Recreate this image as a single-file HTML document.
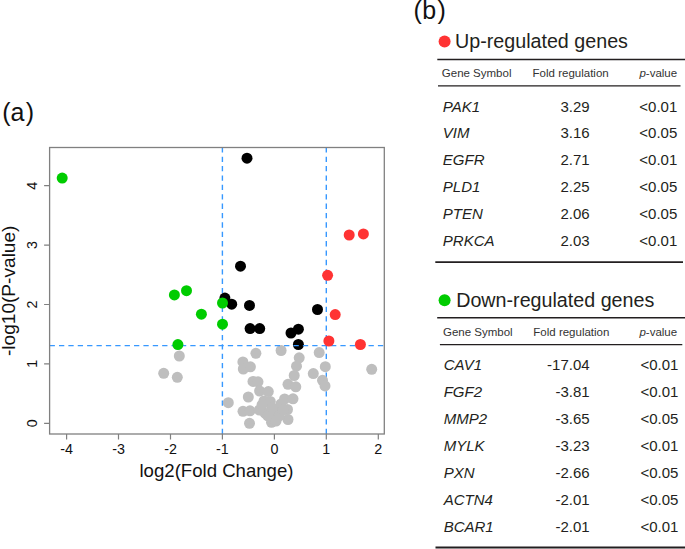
<!DOCTYPE html>
<html><head><meta charset="utf-8"><style>
html,body{margin:0;padding:0;background:#fff;}
body{width:685px;height:549px;overflow:hidden;}
svg{display:block;}
</style></head><body>
<svg width="685" height="549" viewBox="0 0 685 549"><g stroke="#3798ff" stroke-width="1.4" fill="none" stroke-dasharray="5.3 4.08"><path d="M222.4 434.0V147.5"/><path d="M326.3 434.0V147.5"/></g><circle cx="179.3" cy="356" r="5.5" fill="#bebebe"/><circle cx="163.7" cy="373.3" r="5.5" fill="#bebebe"/><circle cx="177.3" cy="377.3" r="5.5" fill="#bebebe"/><circle cx="228.3" cy="402.7" r="5.5" fill="#bebebe"/><circle cx="255.9" cy="353.3" r="5.5" fill="#bebebe"/><circle cx="281.1" cy="350.5" r="5.5" fill="#bebebe"/><circle cx="242.9" cy="361.9" r="5.5" fill="#bebebe"/><circle cx="243.3" cy="369" r="5.5" fill="#bebebe"/><circle cx="250.4" cy="366.8" r="5.5" fill="#bebebe"/><circle cx="253" cy="381.4" r="5.5" fill="#bebebe"/><circle cx="258" cy="381.8" r="5.5" fill="#bebebe"/><circle cx="259.6" cy="391" r="5.5" fill="#bebebe"/><circle cx="268.3" cy="391.6" r="5.5" fill="#bebebe"/><circle cx="248.3" cy="397" r="5.5" fill="#bebebe"/><circle cx="264" cy="401" r="5.5" fill="#bebebe"/><circle cx="270.3" cy="401.5" r="5.5" fill="#bebebe"/><circle cx="243" cy="411.3" r="5.5" fill="#bebebe"/><circle cx="250" cy="410.8" r="5.5" fill="#bebebe"/><circle cx="259.4" cy="410" r="5.5" fill="#bebebe"/><circle cx="265" cy="413.2" r="5.5" fill="#bebebe"/><circle cx="271.5" cy="422.3" r="5.5" fill="#bebebe"/><circle cx="249.5" cy="423.3" r="5.5" fill="#bebebe"/><circle cx="277" cy="412.5" r="5.5" fill="#bebebe"/><circle cx="281" cy="404" r="5.5" fill="#bebebe"/><circle cx="284.6" cy="399" r="5.5" fill="#bebebe"/><circle cx="293" cy="398.8" r="5.5" fill="#bebebe"/><circle cx="287.5" cy="409.5" r="5.5" fill="#bebebe"/><circle cx="288" cy="419.5" r="5.5" fill="#bebebe"/><circle cx="299.2" cy="357.8" r="5.5" fill="#bebebe"/><circle cx="296.5" cy="366.2" r="5.5" fill="#bebebe"/><circle cx="294.2" cy="375.5" r="5.5" fill="#bebebe"/><circle cx="288" cy="384.3" r="5.5" fill="#bebebe"/><circle cx="295.8" cy="386.8" r="5.5" fill="#bebebe"/><circle cx="319.2" cy="352.6" r="5.5" fill="#bebebe"/><circle cx="325.3" cy="366.7" r="5.5" fill="#bebebe"/><circle cx="313.3" cy="373.6" r="5.5" fill="#bebebe"/><circle cx="322.5" cy="380.3" r="5.5" fill="#bebebe"/><circle cx="325" cy="385.9" r="5.5" fill="#bebebe"/><circle cx="371.7" cy="369.3" r="5.5" fill="#bebebe"/><circle cx="275.5" cy="418.5" r="5.5" fill="#bebebe"/><circle cx="267.8" cy="415.9" r="5.5" fill="#bebebe"/><circle cx="272" cy="408" r="5.5" fill="#bebebe"/><circle cx="279" cy="416" r="5.5" fill="#bebebe"/><circle cx="276" cy="421" r="5.5" fill="#bebebe"/><circle cx="262" cy="405" r="5.5" fill="#bebebe"/><circle cx="283" cy="410" r="5.5" fill="#bebebe"/><circle cx="247" cy="158.2" r="5.5" fill="#000"/><circle cx="240.5" cy="266.2" r="5.5" fill="#000"/><circle cx="224.9" cy="298.1" r="5.5" fill="#000"/><circle cx="231.7" cy="304.2" r="5.5" fill="#000"/><circle cx="249.5" cy="305.4" r="5.5" fill="#000"/><circle cx="250.1" cy="328.6" r="5.5" fill="#000"/><circle cx="259.7" cy="328.6" r="5.5" fill="#000"/><circle cx="291" cy="333" r="5.5" fill="#000"/><circle cx="298.4" cy="329.2" r="5.5" fill="#000"/><circle cx="298.4" cy="344.5" r="5.5" fill="#000"/><circle cx="317.5" cy="309.5" r="5.5" fill="#000"/><g stroke="#3798ff" stroke-width="1.4" fill="none" stroke-dasharray="5.3 4.08"><path d="M49.6 345.6H384.3"/></g><circle cx="62.2" cy="178.1" r="5.5" fill="#00cc00"/><circle cx="174.4" cy="294.9" r="5.5" fill="#00cc00"/><circle cx="186.5" cy="290.7" r="5.5" fill="#00cc00"/><circle cx="201.4" cy="314.2" r="5.5" fill="#00cc00"/><circle cx="222.5" cy="303" r="5.5" fill="#00cc00"/><circle cx="222.5" cy="324.2" r="5.5" fill="#00cc00"/><circle cx="177.9" cy="344.6" r="5.5" fill="#00cc00"/><circle cx="349.2" cy="235" r="5.5" fill="#ff3333"/><circle cx="363.4" cy="233.9" r="5.5" fill="#ff3333"/><circle cx="327.6" cy="275.3" r="5.5" fill="#ff3333"/><circle cx="335.2" cy="314.6" r="5.5" fill="#ff3333"/><circle cx="328.9" cy="341" r="5.5" fill="#ff3333"/><circle cx="360.4" cy="344.5" r="5.5" fill="#ff3333"/><rect x="49.6" y="147.5" width="334.7" height="286.5" fill="none" stroke="#808080" stroke-width="1.3"/><path d="M66.6 434.0V439.6M118.5 434.0V439.6M170.5 434.0V439.6M222.4 434.0V439.6M274.4 434.0V439.6M326.3 434.0V439.6M378.3 434.0V439.6M44.1 423.3H49.6M44.1 363.9H49.6M44.1 304.5H49.6M44.1 245.1H49.6M44.1 185.7H49.6" stroke="#808080" stroke-width="1.2" fill="none"/><g font-family="Liberation Sans, sans-serif" font-size="14.3" fill="#111" text-anchor="middle"><text x="66.6" y="453.9">-4</text><text x="118.5" y="453.9">-3</text><text x="170.5" y="453.9">-2</text><text x="222.4" y="453.9">-1</text><text x="274.4" y="453.9">0</text><text x="326.3" y="453.9">1</text><text x="378.3" y="453.9">2</text><text transform="translate(37.1 423.3) rotate(-90)">0</text><text transform="translate(37.1 363.9) rotate(-90)">1</text><text transform="translate(37.1 304.5) rotate(-90)">2</text><text transform="translate(37.1 245.1) rotate(-90)">3</text><text transform="translate(37.1 185.7) rotate(-90)">4</text></g><g font-family="Liberation Sans, sans-serif" font-size="18.6" fill="#111" text-anchor="middle"><text x="216.5" y="476.6">log2(Fold Change)</text><text transform="translate(14.5 290.8) rotate(-90)" font-size="19.1">-log10(P-value)</text></g><g font-family="Liberation Sans, sans-serif" font-size="25" fill="#111"><text x="2.3 10.4 25.8" y="121">(a)</text><text x="413.5 422.3 437.5" y="18.7">(b)</text></g><g font-family="Liberation Sans, sans-serif" fill="#231f20"><circle cx="444.6" cy="41.5" r="6" fill="#ff3333"/><text x="455" y="47.8" font-size="19.7">Up-regulated genes</text><g font-size="11.5" fill="#333"><text x="441.8" y="77.2">Gene Symbol</text><text x="532.6" y="77.2">Fold regulation</text><text x="639.4" y="77.2"><tspan font-style="italic">p</tspan>-value</text></g><g font-size="15"><text x="442.8" y="111.5" font-style="italic">PAK1</text><text x="589.6" y="111.5" text-anchor="end">3.29</text><text x="639.3" y="111.5">&lt;0.01</text><text x="442.8" y="138.3" font-style="italic">VIM</text><text x="589.6" y="138.3" text-anchor="end">3.16</text><text x="639.3" y="138.3">&lt;0.05</text><text x="442.8" y="165.1" font-style="italic">EGFR</text><text x="589.6" y="165.1" text-anchor="end">2.71</text><text x="639.3" y="165.1">&lt;0.01</text><text x="442.8" y="192.0" font-style="italic">PLD1</text><text x="589.6" y="192.0" text-anchor="end">2.25</text><text x="639.3" y="192.0">&lt;0.05</text><text x="442.8" y="218.8" font-style="italic">PTEN</text><text x="589.6" y="218.8" text-anchor="end">2.06</text><text x="639.3" y="218.8">&lt;0.05</text><text x="442.8" y="245.6" font-style="italic">PRKCA</text><text x="589.6" y="245.6" text-anchor="end">2.03</text><text x="639.3" y="245.6">&lt;0.01</text></g><path d="M437.3 59.5H685" stroke="#231f20" stroke-width="1.6"/><path d="M438 85.9H680.5" stroke="#231f20" stroke-width="1.3"/><path d="M435.3 262.1H683" stroke="#231f20" stroke-width="1.8"/><circle cx="444.6" cy="300.3" r="6" fill="#00cc00"/><text x="456.2" y="306.5" font-size="19.7">Down-regulated genes</text><g font-size="11.5" fill="#333"><text x="443.0" y="335.8">Gene Symbol</text><text x="533.32" y="335.8">Fold regulation</text><text x="639.4" y="335.8"><tspan font-style="italic">p</tspan>-value</text></g><g font-size="15"><text x="443.7" y="370.4" font-style="italic">CAV1</text><text x="589.6" y="370.4" text-anchor="end">-17.04</text><text x="640.5" y="370.4">&lt;0.01</text><text x="443.7" y="397.3" font-style="italic">FGF2</text><text x="589.6" y="397.3" text-anchor="end">-3.81</text><text x="640.5" y="397.3">&lt;0.01</text><text x="443.7" y="424.2" font-style="italic">MMP2</text><text x="589.6" y="424.2" text-anchor="end">-3.65</text><text x="640.5" y="424.2">&lt;0.05</text><text x="443.7" y="451.1" font-style="italic">MYLK</text><text x="589.6" y="451.1" text-anchor="end">-3.23</text><text x="640.5" y="451.1">&lt;0.01</text><text x="443.7" y="478.0" font-style="italic">PXN</text><text x="589.6" y="478.0" text-anchor="end">-2.66</text><text x="640.5" y="478.0">&lt;0.05</text><text x="443.7" y="504.9" font-style="italic">ACTN4</text><text x="589.6" y="504.9" text-anchor="end">-2.01</text><text x="640.5" y="504.9">&lt;0.05</text><text x="443.7" y="531.8" font-style="italic">BCAR1</text><text x="589.6" y="531.8" text-anchor="end">-2.01</text><text x="640.5" y="531.8">&lt;0.01</text></g><path d="M437.2 317.7H685" stroke="#231f20" stroke-width="1.6"/><path d="M439.9 344.6H682.3" stroke="#231f20" stroke-width="1.3"/><path d="M435.5 547.5H685" stroke="#231f20" stroke-width="2"/></g></svg>
</body></html>
